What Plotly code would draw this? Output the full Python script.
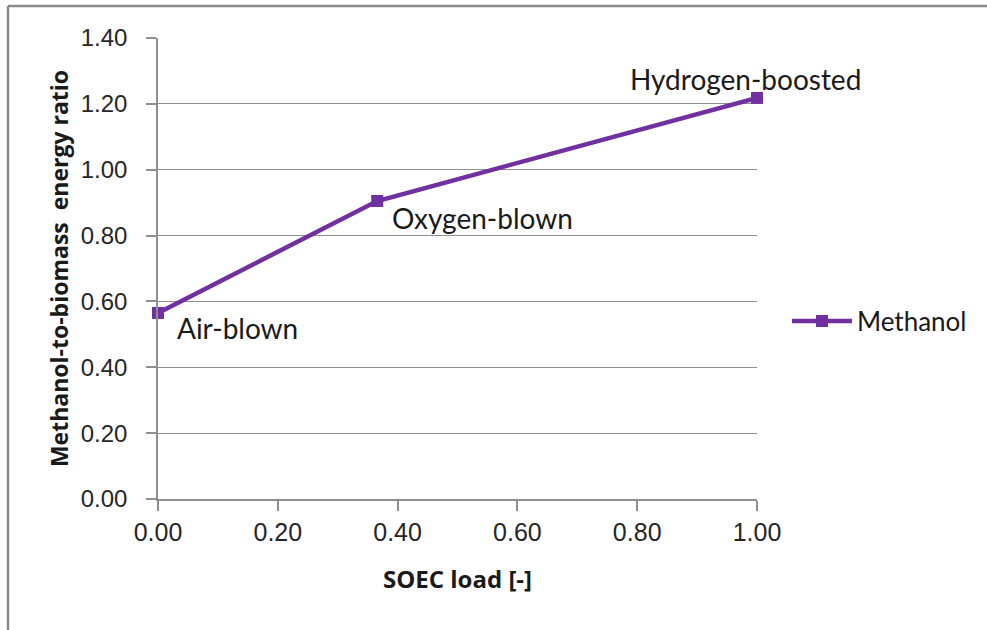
import plotly.graph_objects as go

soec_load = [0.0, 0.366, 1.0]
energy_ratio = [0.565, 0.905, 1.218]
case_labels = ["Air-blown", "Oxygen-blown", "Hydrogen-boosted"]
series_name = "Methanol"
x_ticks = [0.0, 0.2, 0.4, 0.6, 0.8, 1.0]
y_ticks = [0.0, 0.2, 0.4, 0.6, 0.8, 1.0, 1.2, 1.4]

purple = "#7030A0"
grid = "#8f8f8f"

fig = go.Figure()
fig.add_trace(go.Scatter(
    x=soec_load, y=energy_ratio, mode="lines+markers", name=series_name,
    line=dict(color=purple, width=4.5),
    marker=dict(symbol="square", size=12, color=purple),
    cliponaxis=False,
))

# label offsets (pixels): (xanchor, xshift, yshift)
offsets = [("left", 17, -15), ("left", 13, -17), ("center", -12, 19)]
for x, y, t, (xa, xs, ys) in zip(soec_load, energy_ratio, case_labels, offsets):
    fig.add_annotation(x=x, y=y, text=t, showarrow=False, xanchor=xa,
                       yanchor="middle", xshift=xs, yshift=ys,
                       font=dict(family="Lato", size=28, color="#1a1a1a"))

fig.update_layout(
    width=987, height=630,
    margin=dict(l=158, r=230, t=38, b=131, autoexpand=False),
    paper_bgcolor="white", plot_bgcolor="white",
    showlegend=True,
    legend=dict(x=1.05, y=0.386, xanchor="left", yanchor="middle",
                itemwidth=60,
                font=dict(family="Lato", size=26, color="#1a1a1a"),
                bgcolor="rgba(0,0,0,0)"),
    xaxis=dict(range=[0, 1.0], tickvals=x_ticks, ticktext=[f"{v:.2f}" for v in x_ticks],
               showgrid=False, zeroline=False, showline=True, linecolor=grid, linewidth=1.5,
               ticks="outside", ticklen=10, tickcolor=grid, tickwidth=1.5,
               tickfont=dict(family="Liberation Sans", size=25, color="#262626"),
               title=dict(text="<b>SOEC load [-]</b>", standoff=26,
                          font=dict(family="Open Sans", size=24, color="#1a1a1a"))),
    yaxis=dict(range=[0, 1.4], tickvals=y_ticks, ticktext=[f"{v:.2f}" for v in y_ticks],
               showgrid=True, gridcolor=grid, gridwidth=1.2, zeroline=False,
               showline=True, linecolor=grid, linewidth=1.5,
               ticks="outside", ticklen=10, tickcolor=grid, tickwidth=1.5,
               ticklabelstandoff=14,
               tickfont=dict(family="Liberation Sans", size=24, color="#262626"),
               title=dict(text="<b>Methanol-to-biomass  energy ratio</b>", standoff=6,
                          font=dict(family="Open Sans", size=23, color="#1a1a1a"))),
)

# outer frame (top and left edges visible)
fx0 = (8 - 158) / 599
fy1 = (499 - 6) / 461
fig.add_shape(type="line", xref="paper", yref="paper", x0=fx0, x1=2.0, y0=fy1, y1=fy1,
              line=dict(color="#8a8a8a", width=2.5))
fig.add_shape(type="line", xref="paper", yref="paper", x0=fx0, x1=fx0, y0=fy1, y1=-1.0,
              line=dict(color="#8a8a8a", width=2.5))

fig.write_html("out.html", config={"displayModeBar": False},
               post_script="document.body.style.margin='0';document.body.style.overflow='hidden';")
